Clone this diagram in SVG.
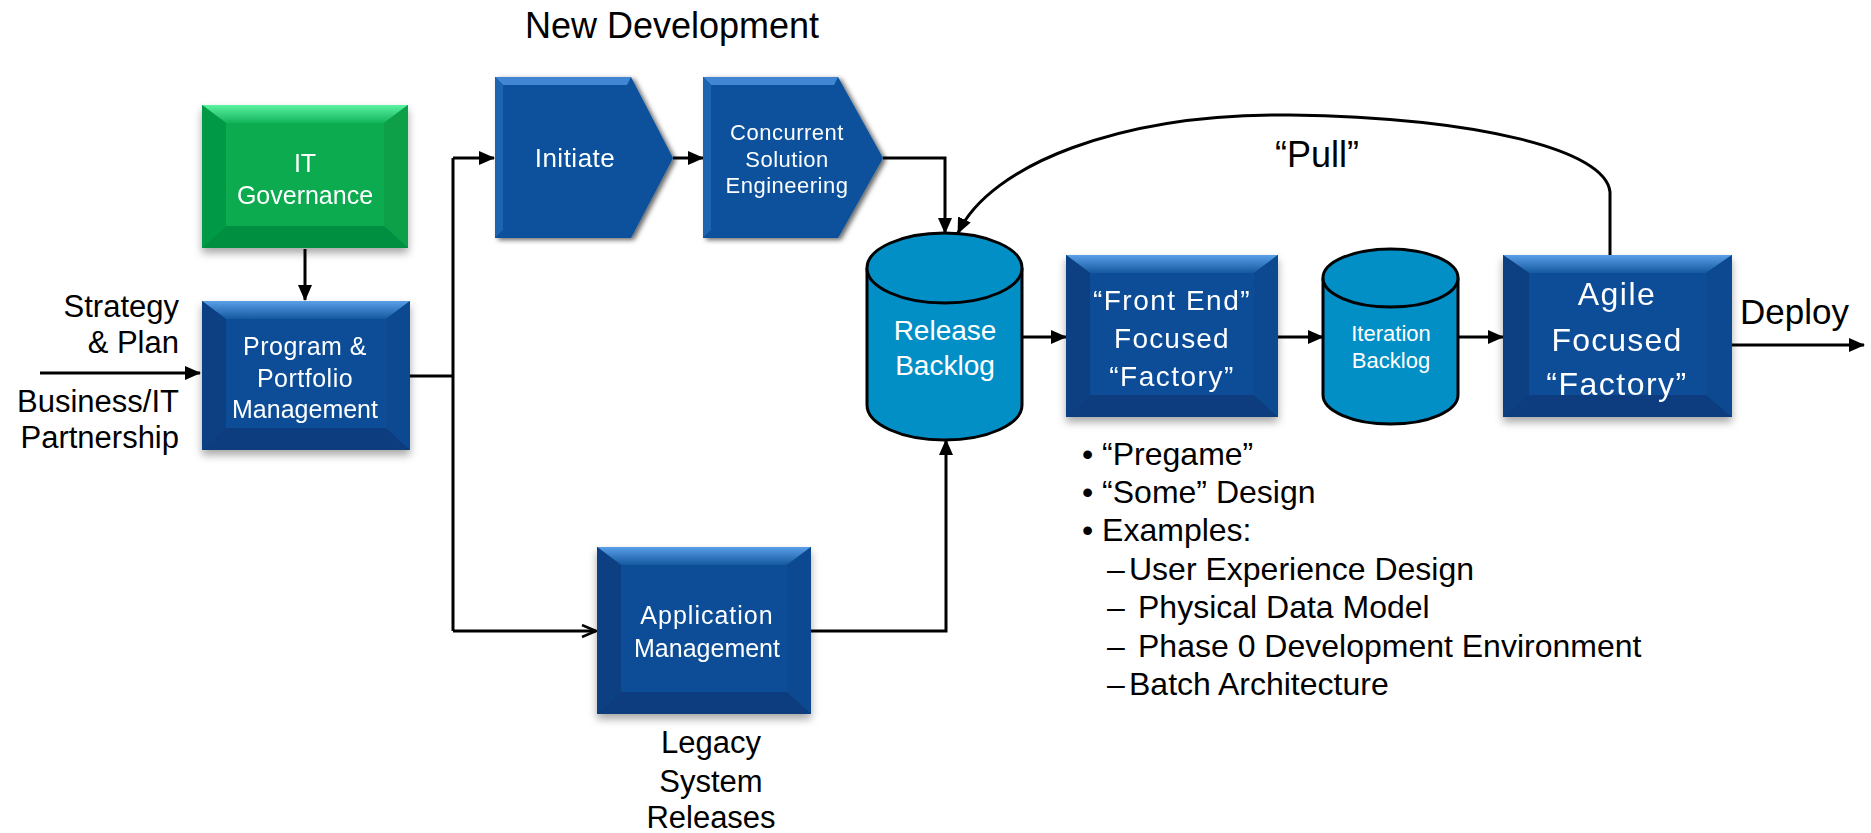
<svg xmlns="http://www.w3.org/2000/svg" width="1871" height="833" viewBox="0 0 1871 833">
<style>
  .lbl { font-family: "Liberation Sans", Arial, sans-serif; fill: #000; }
  .wt { font-family: "Liberation Sans", Arial, sans-serif; fill: #fff; text-anchor: middle; }
  .conn { fill: none; stroke: #000; stroke-width: 3; }
  .cyl { fill: #028fc6; stroke: #000; stroke-width: 3; }
  .face { fill: #0a4e98; }
  .btop { fill: url(#gTop); }
  .bleft { fill: #093f82; }
  .bright { fill: #0b4a90; }
  .bbot { fill: #073d7e; }
  .gface { fill: #07ab4f; }
  .gtop { fill: url(#gTopG); }
  .gleft { fill: #069a46; }
  .gright { fill: #08a04a; }
  .gbot { fill: #058f3f; }
  .chev { fill: #07519c; }
  .chevtop { fill: #3f86d2; }
  .chevleft { fill: #1a63b0; }
</style>
<defs>
  <linearGradient id="gTop" x1="0" y1="0" x2="0" y2="1">
    <stop offset="0" stop-color="#5a9fe8"/>
    <stop offset="1" stop-color="#14599f"/>
  </linearGradient>
  <linearGradient id="gTopG" x1="0" y1="0" x2="0" y2="1">
    <stop offset="0" stop-color="#5cf2a2"/>
    <stop offset="1" stop-color="#12b45a"/>
  </linearGradient>
  <filter id="shadow" x="-10%" y="-10%" width="125%" height="130%">
    <feDropShadow dx="0" dy="5" stdDeviation="4" flood-color="#000" flood-opacity="0.35"/>
  </filter>
  <filter id="cshadow" x="-10%" y="-10%" width="125%" height="125%">
    <feDropShadow dx="3" dy="2" stdDeviation="2.5" flood-color="#000" flood-opacity="0.6"/>
  </filter>
  <marker id="arr" markerWidth="16" markerHeight="14" refX="15" refY="7" orient="auto" markerUnits="userSpaceOnUse">
    <path d="M0,0 L16,7 L0,14 z" fill="#000"/>
  </marker>
  <marker id="open" markerWidth="16" markerHeight="14" refX="15" refY="7" orient="auto" markerUnits="userSpaceOnUse">
    <path d="M1,1 L15,7 L1,13" fill="none" stroke="#000" stroke-width="2.5"/>
  </marker>
</defs>
<rect width="1871" height="833" fill="#fff"/>

<text class="lbl" x="672" y="38" font-size="36" text-anchor="middle">New Development</text>

<g id="connectors">
  <path class="conn" d="M40,373 H200" marker-end="url(#arr)"/>
  <path class="conn" d="M305,249 V300" marker-end="url(#arr)"/>
  <path class="conn" d="M410,376 H453"/>
  <path class="conn" d="M453,158 V631"/>
  <path class="conn" d="M453,158 H494" marker-end="url(#arr)"/>
  <path class="conn" d="M453,631 H596" marker-end="url(#open)"/>
  <path class="conn" d="M673,158 H703" marker-end="url(#arr)"/>
  <path class="conn" d="M883,158 H945 V233" marker-end="url(#arr)"/>
  <path class="conn" stroke-width="2.5" d="M1610,255 V192 C1606,150 1480,118 1290,115 C1120,113 990,165 958,233" marker-end="url(#arr)"/>
  <path class="conn" d="M811,631 H946 V440" marker-end="url(#arr)"/>
  <path class="conn" d="M1022,337 H1066" marker-end="url(#arr)"/>
  <path class="conn" d="M1278,337 H1323" marker-end="url(#arr)"/>
  <path class="conn" d="M1458,337 H1503" marker-end="url(#arr)"/>
  <path class="conn" d="M1732,345 H1864" marker-end="url(#arr)"/>
</g>

<g id="labels">
  <text class="lbl" font-size="31" text-anchor="end" x="179" y="317">Strategy</text>
  <text class="lbl" font-size="31" text-anchor="end" x="179" y="353">&amp; Plan</text>
  <text class="lbl" font-size="31" text-anchor="end" x="179" y="412">Business/IT</text>
  <text class="lbl" font-size="31" text-anchor="end" x="179" y="448">Partnership</text>
  <text class="lbl" font-size="36" text-anchor="middle" x="1317" y="167">“Pull”</text>
  <text class="lbl" font-size="35" x="1740" y="324">Deploy</text>
  <text class="lbl" font-size="31" text-anchor="middle" x="711" y="753">Legacy</text>
  <text class="lbl" font-size="31" text-anchor="middle" x="711" y="792">System</text>
  <text class="lbl" font-size="31" text-anchor="middle" x="711" y="828">Releases</text>
</g>

<g id="it-governance" filter="url(#shadow)">
  <rect class="gface" x="202" y="105" width="206" height="143"/>
  <polygon class="gtop" points="202,105 408,105 384,123 226,123"/>
  <polygon class="gleft" points="202,105 226,123 226,226 202,248"/>
  <polygon class="gright" points="408,105 384,123 384,226 408,248"/>
  <polygon class="gbot" points="202,248 226,226 384,226 408,248"/>
  <rect class="gface" x="226" y="123" width="158" height="103"/>
  <text class="wt" font-size="25" x="305" y="172">IT</text>
  <text class="wt" font-size="25" x="305" y="204">Governance</text>
</g>

<g id="program-portfolio" filter="url(#shadow)">
  <rect class="face" x="202" y="301" width="208" height="149"/>
  <polygon class="btop" points="202,301 410,301 386,319 226,319"/>
  <polygon class="bleft" points="202,301 226,319 226,428 202,450"/>
  <polygon class="bright" points="410,301 386,319 386,428 410,450"/>
  <polygon class="bbot" points="202,450 226,428 386,428 410,450"/>
  <rect class="face" x="226" y="319" width="160" height="109"/>
  <text class="wt" font-size="25" letter-spacing="0.5" x="305" y="355">Program &amp;</text>
  <text class="wt" font-size="25" letter-spacing="0.5" x="305" y="387">Portfolio</text>
  <text class="wt" font-size="25" x="305" y="418">Management</text>
</g>

<g id="initiate" filter="url(#cshadow)">
  <polygon class="chev" points="495,77 631,77 673,158 631,238 495,238"/>
  <polygon class="chevtop" points="495,77 631,77 627,85 503,85"/>
  <polygon class="chevleft" points="495,77 503,85 503,230 495,238"/>
  <text class="wt" font-size="26" letter-spacing="0.5" x="575" y="167">Initiate</text>
</g>

<g id="concurrent" filter="url(#cshadow)">
  <polygon class="chev" points="703,77 838,77 883,158 838,238 703,238"/>
  <polygon class="chevtop" points="703,77 838,77 834,85 711,85"/>
  <polygon class="chevleft" points="703,77 711,85 711,230 703,238"/>
  <text class="wt" font-size="22" letter-spacing="0.5" x="787" y="140">Concurrent</text>
  <text class="wt" font-size="22" letter-spacing="0.5" x="787" y="167">Solution</text>
  <text class="wt" font-size="22" letter-spacing="0.5" x="787" y="193">Engineering</text>
</g>

<g id="release-backlog">
  <path class="cyl" d="M867,268 V405 A77.5,35 0 0 0 1022,405 V268"/>
  <ellipse class="cyl" cx="944.5" cy="268" rx="77.5" ry="35"/>
  <text class="wt" font-size="28" x="945" y="340">Release</text>
  <text class="wt" font-size="28" x="945" y="375">Backlog</text>
</g>

<g id="front-end" filter="url(#shadow)">
  <rect class="face" x="1066" y="255" width="212" height="162"/>
  <polygon class="btop" points="1066,255 1278,255 1254,273 1090,273"/>
  <polygon class="bleft" points="1066,255 1090,273 1090,395 1066,417"/>
  <polygon class="bright" points="1278,255 1254,273 1254,395 1278,417"/>
  <polygon class="bbot" points="1066,417 1090,395 1254,395 1278,417"/>
  <rect class="face" x="1090" y="273" width="164" height="122"/>
  <text class="wt" font-size="28" letter-spacing="1.5" x="1172" y="310">“Front End”</text>
  <text class="wt" font-size="28" letter-spacing="1.2" x="1172" y="348">Focused</text>
  <text class="wt" font-size="28" letter-spacing="1.5" x="1172" y="386">“Factory”</text>
</g>

<g id="iteration-backlog">
  <path class="cyl" d="M1323,278 V395 A67.5,29 0 0 0 1458,395 V278"/>
  <ellipse class="cyl" cx="1390.5" cy="278" rx="67.5" ry="29"/>
  <text class="wt" font-size="22" x="1391" y="341">Iteration</text>
  <text class="wt" font-size="22" x="1391" y="368">Backlog</text>
</g>

<g id="agile" filter="url(#shadow)">
  <rect class="face" x="1503" y="255" width="229" height="162"/>
  <polygon class="btop" points="1503,255 1732,255 1706,273 1529,273"/>
  <polygon class="bleft" points="1503,255 1529,273 1529,395 1503,417"/>
  <polygon class="bright" points="1732,255 1706,273 1706,395 1732,417"/>
  <polygon class="bbot" points="1503,417 1529,395 1706,395 1732,417"/>
  <rect class="face" x="1529" y="273" width="177" height="122"/>
  <text class="wt" font-size="32" letter-spacing="1.5" x="1617" y="305">Agile</text>
  <text class="wt" font-size="32" letter-spacing="1.2" x="1617" y="351">Focused</text>
  <text class="wt" font-size="32" letter-spacing="1.5" x="1617" y="395">“Factory”</text>
</g>

<g id="application-management" filter="url(#shadow)">
  <rect class="face" x="597" y="547" width="214" height="167"/>
  <polygon class="btop" points="597,547 811,547 787,565 621,565"/>
  <polygon class="bleft" points="597,547 621,565 621,692 597,714"/>
  <polygon class="bright" points="811,547 787,565 787,692 811,714"/>
  <polygon class="bbot" points="597,714 621,692 787,692 811,714"/>
  <rect class="face" x="621" y="565" width="166" height="127"/>
  <text class="wt" font-size="25" letter-spacing="1" x="707" y="624">Application</text>
  <text class="wt" font-size="25" x="707" y="657">Management</text>
</g>

<g id="notes" class="lbl" font-size="32">
  <text x="1082" y="465">• “Pregame”</text>
  <text x="1082" y="503">• “Some” Design</text>
  <text x="1082" y="541">• Examples:</text>
  <text y="580"><tspan x="1107">–</tspan><tspan x="1129">User Experience Design</tspan></text>
  <text y="618"><tspan x="1107">–</tspan><tspan x="1138">Physical Data Model</tspan></text>
  <text y="657"><tspan x="1107">–</tspan><tspan x="1138">Phase 0 Development Environment</tspan></text>
  <text y="695"><tspan x="1107">–</tspan><tspan x="1129">Batch Architecture</tspan></text>
</g>
</svg>
